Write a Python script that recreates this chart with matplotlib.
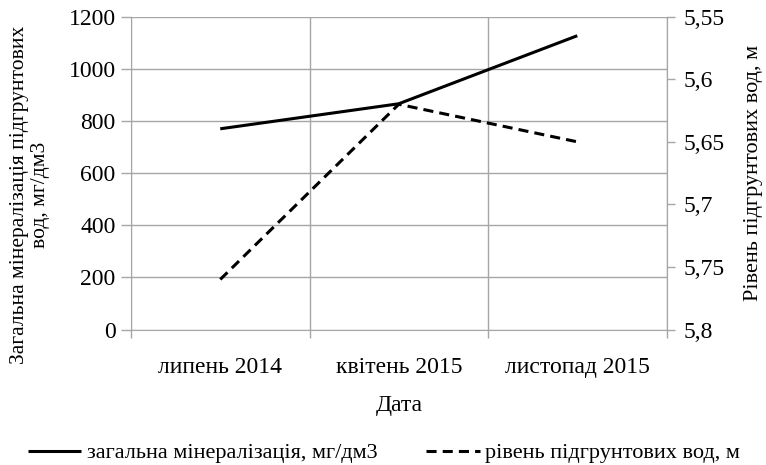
import matplotlib
matplotlib.use("Agg")
import matplotlib.pyplot as plt
from matplotlib.ticker import FixedLocator, FuncFormatter

plt.rcParams['font.family'] = 'serif'
plt.rcParams['font.serif'] = ['Liberation Serif', 'DejaVu Serif']

# data
dates = ['липень 2014', 'квітень 2015', 'листопад 2015']
mineral = [770, 866, 1127]          # мг/дм3, left axis
water_level = [5.76, 5.62, 5.65]    # м, right axis (inverted)

grid_col = '#a6a6a6'
fs = 17
ff = 'Liberation Serif'

fig = plt.figure(figsize=(7.66, 4.65), dpi=100)
ax = fig.add_axes([131 / 766, 1 - 329.5 / 465, (666.5 - 131) / 766, (329.5 - 16.7) / 465])

x = range(len(dates))
l1, = ax.plot(x, mineral, color='black', lw=2.2, solid_capstyle='butt')
ax.set_xlim(-0.5, len(dates) - 0.5)
ax.set_ylim(0, 1200)
ax.set_yticks(range(0, 1201, 200))
ax.set_xticks(list(x))
ax.set_xticklabels(dates, fontsize=fs, fontfamily=ff)
for t in ax.get_yticklabels():
    t.set_fontfamily(ff)
ax.xaxis.set_minor_locator(FixedLocator([i - 0.5 for i in range(len(dates) + 1)]))
ax.tick_params(axis='x', which='major', length=0, pad=20)
ax.tick_params(axis='x', which='minor', length=6, color=grid_col, width=1)
ax.tick_params(axis='y', length=7, color=grid_col, width=1, labelsize=fs, pad=4)
ax.grid(True, axis='y', which='major', color=grid_col, lw=1)
ax.grid(True, axis='x', which='minor', color=grid_col, lw=1)
ax.set_axisbelow(True)
for s in ax.spines.values():
    s.set_color(grid_col)
ax.spines['top'].set_visible(False)
ax.set_xlabel('Дата', fontsize=fs, labelpad=12, fontfamily=ff)
ax.set_ylabel('Загальна мінералізація підгрунтових\nвод, мг/дм3', fontsize=15.5,
              linespacing=1.15, fontfamily=ff)
ax.yaxis.set_label_coords(-0.152, 0.43)

ax2 = ax.twinx()
l2, = ax2.plot(x, water_level, color='black', lw=2.2, ls=(0, (3.3, 2)))
ax2.set_ylim(5.8, 5.55)
ax2.set_yticks([5.55, 5.6, 5.65, 5.7, 5.75, 5.8])
ax2.yaxis.set_major_formatter(FuncFormatter(lambda v, p: f"{v:g}".replace('.', ',')))
ax2.tick_params(axis='y', length=6, color=grid_col, width=1, labelsize=fs, pad=6)
for t in ax2.get_yticklabels():
    t.set_fontfamily(ff)
for s in ax2.spines.values():
    s.set_visible(False)
ax2.spines['right'].set_visible(True)
ax2.spines['right'].set_color(grid_col)
ax2.set_ylabel('Рівень підгрунтових вод, м', fontsize=16, labelpad=14, fontfamily=ff)

fig.legend([l1, l2], ['загальна мінералізація, мг/дм3', 'рівень підгрунтових вод, м'],
           loc='center left', bbox_to_anchor=(28 / 766, 1 - 453 / 465), ncol=2, frameon=False,
           prop={'family': ff, 'size': 16}, handlelength=2.4, handletextpad=0.25,
           columnspacing=2.2, borderaxespad=0, borderpad=0)

fig.savefig('out.png', dpi=100)
